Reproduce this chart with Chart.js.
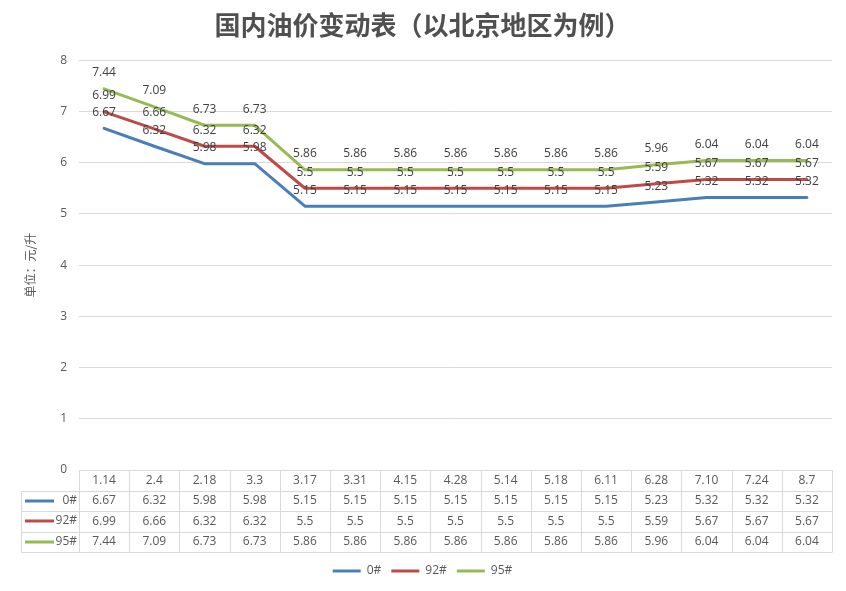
<!DOCTYPE html>
<html>
<head>
<meta charset="utf-8">
<script src="https://cdn.jsdelivr.net/npm/chart.js@4.4.0/dist/chart.umd.min.js"></script>
<style>
  html, body { margin: 0; padding: 0; background: #fff; }
  #wrap { width: 846px; height: 591px; }
</style>
</head>
<body>
<div id="wrap"><canvas id="oilChart" width="846" height="591"></canvas></div>
<script>
// データ
const categories = ['1.14', '2.4', '2.18', '3.3', '3.17', '3.31', '4.15', '4.28', '5.14', '5.18', '6.11', '6.28', '7.10', '7.24', '8.7'];
const diesel0 = [6.67, 6.32, 5.98, 5.98, 5.15, 5.15, 5.15, 5.15, 5.15, 5.15, 5.15, 5.23, 5.32, 5.32, 5.32];
const gas92 = [6.99, 6.66, 6.32, 6.32, 5.5, 5.5, 5.5, 5.5, 5.5, 5.5, 5.5, 5.59, 5.67, 5.67, 5.67];
const gas95 = [7.44, 7.09, 6.73, 6.73, 5.86, 5.86, 5.86, 5.86, 5.86, 5.86, 5.86, 5.96, 6.04, 6.04, 6.04];
const seriesNames = ['0#', '92#', '95#'];
const seriesColors = ['#4a7ebb', '#be4b48', '#98b954'];
const Y_MIN = 0;
const Y_MAX = 8;

const TEXT_COLOR = '#595959';
const GRID_COLOR = '#d9d9d9';
const NUM_FONT = '12px "Open Sans", "Noto Sans", sans-serif';
const ROW_H = 20.5;

// 数値ラベル（点の上）
const valueLabels = {
  id: 'valueLabels',
  afterDatasetsDraw(chart) {
    const ctx = chart.ctx;
    ctx.save();
    ctx.font = NUM_FONT;
    ctx.fillStyle = '#404040';
    ctx.textAlign = 'center';
    ctx.textBaseline = 'middle';
    chart.data.datasets.forEach((ds, i) => {
      const meta = chart.getDatasetMeta(i);
      meta.data.forEach((pt, j) => {
        ctx.fillText(String(ds.data[j]), pt.x, pt.y - 16);
      });
    });
    ctx.restore();
  }
};

// データテーブル
const dataTable = {
  id: 'dataTable',
  afterDraw(chart) {
    const ctx = chart.ctx;
    const x = chart.scales.x;
    const area = chart.chartArea;
    const colW = x.getPixelForValue(1) - x.getPixelForValue(0);
    const top = area.bottom;
    const left = area.left;
    const right = area.right;
    const keyLeft = 21;
    const rows = [categories].concat(chart.data.datasets.map(d => d.data));

    ctx.save();
    ctx.strokeStyle = GRID_COLOR;
    ctx.lineWidth = 1;
    ctx.beginPath();
    // 横線
    ctx.moveTo(left, top + 0.5);
    ctx.lineTo(right, top + 0.5);
    for (let r = 1; r <= rows.length; r++) {
      const y = Math.round(top + r * ROW_H) + 0.5;
      ctx.moveTo(keyLeft, y);
      ctx.lineTo(right, y);
    }
    // 縦線
    const bottom = Math.round(top + rows.length * ROW_H) + 0.5;
    ctx.moveTo(keyLeft + 0.5, Math.round(top + ROW_H));
    ctx.lineTo(keyLeft + 0.5, bottom);
    for (let c = 0; c <= categories.length; c++) {
      const xx = Math.round(left + c * colW) + 0.5;
      ctx.moveTo(xx, top);
      ctx.lineTo(xx, bottom);
    }
    ctx.stroke();

    // 文字
    ctx.font = NUM_FONT;
    ctx.fillStyle = TEXT_COLOR;
    ctx.textAlign = 'center';
    ctx.textBaseline = 'middle';
    rows.forEach((row, r) => {
      const cy = top + r * ROW_H + ROW_H / 2;
      row.forEach((v, c) => {
        ctx.fillText(String(v), x.getPixelForValue(c), cy);
      });
    });

    // 凡例キー
    chart.data.datasets.forEach((ds, i) => {
      const cy = Math.round(top + (i + 1) * ROW_H + ROW_H / 2);
      ctx.strokeStyle = ds.borderColor;
      ctx.lineWidth = 3;
      ctx.beginPath();
      ctx.moveTo(25, cy);
      ctx.lineTo(54, cy);
      ctx.stroke();
      ctx.textAlign = 'right';
      ctx.fillText(ds.label, left - 2, cy);
    });
    ctx.restore();
  }
};

const ctx = document.getElementById('oilChart').getContext('2d');
const oilChart = new Chart(ctx, {
  type: 'line',
  data: {
    labels: categories,
    datasets: [diesel0, gas92, gas95].map((vals, i) => ({
      label: seriesNames[i],
      data: vals,
      borderColor: seriesColors[i],
      backgroundColor: seriesColors[i],
      borderWidth: 3,
      pointRadius: 0,
      tension: 0,
      borderJoinStyle: 'round',
      borderCapStyle: 'round',
    })),
  },
  options: {
    responsive: false,
    animation: false,
    layout: { padding: { left: 13, right: 14, top: 0, bottom: 4 } },
    plugins: {
      title: {
        display: true,
        text: '国内油价变动表（以北京地区为例）',
        color: '#505050',
        font: { family: '"Noto Sans CJK SC", sans-serif', size: 26, weight: 'bold' },
        padding: { top: 10, bottom: 19 },
      },
      legend: {
        position: 'bottom',
        labels: {
          usePointStyle: true,
          pointStyle: 'line',
          pointStyleWidth: 28,
          color: TEXT_COLOR,
          font: { family: '"Open Sans", "Noto Sans", sans-serif', size: 12 },
          padding: 10,
        },
      },
      tooltip: { enabled: false },
    },
    scales: {
      x: {
        type: 'category',
        offset: true,
        ticks: { display: false },
        grid: { display: false },
        border: { display: false },
        afterFit(scale) { scale.height = 85; },
      },
      y: {
        min: Y_MIN,
        max: Y_MAX,
        ticks: {
          stepSize: 1,
          color: TEXT_COLOR,
          font: { family: '"Open Sans", "Noto Sans", sans-serif', size: 12 },
          padding: 12,
        },
        grid: { color: GRID_COLOR, drawTicks: false },
        border: { display: false },
        title: {
          display: true,
          text: '单位：元/升',
          color: TEXT_COLOR,
          font: { family: '"Noto Sans CJK SC", sans-serif', size: 12 },
          padding: { top: 10, bottom: 0 },
        },
        afterFit(scale) { scale.width = 66; },
      },
    },
  },
  plugins: [valueLabels, dataTable],
});
</script>
</body>
</html>
